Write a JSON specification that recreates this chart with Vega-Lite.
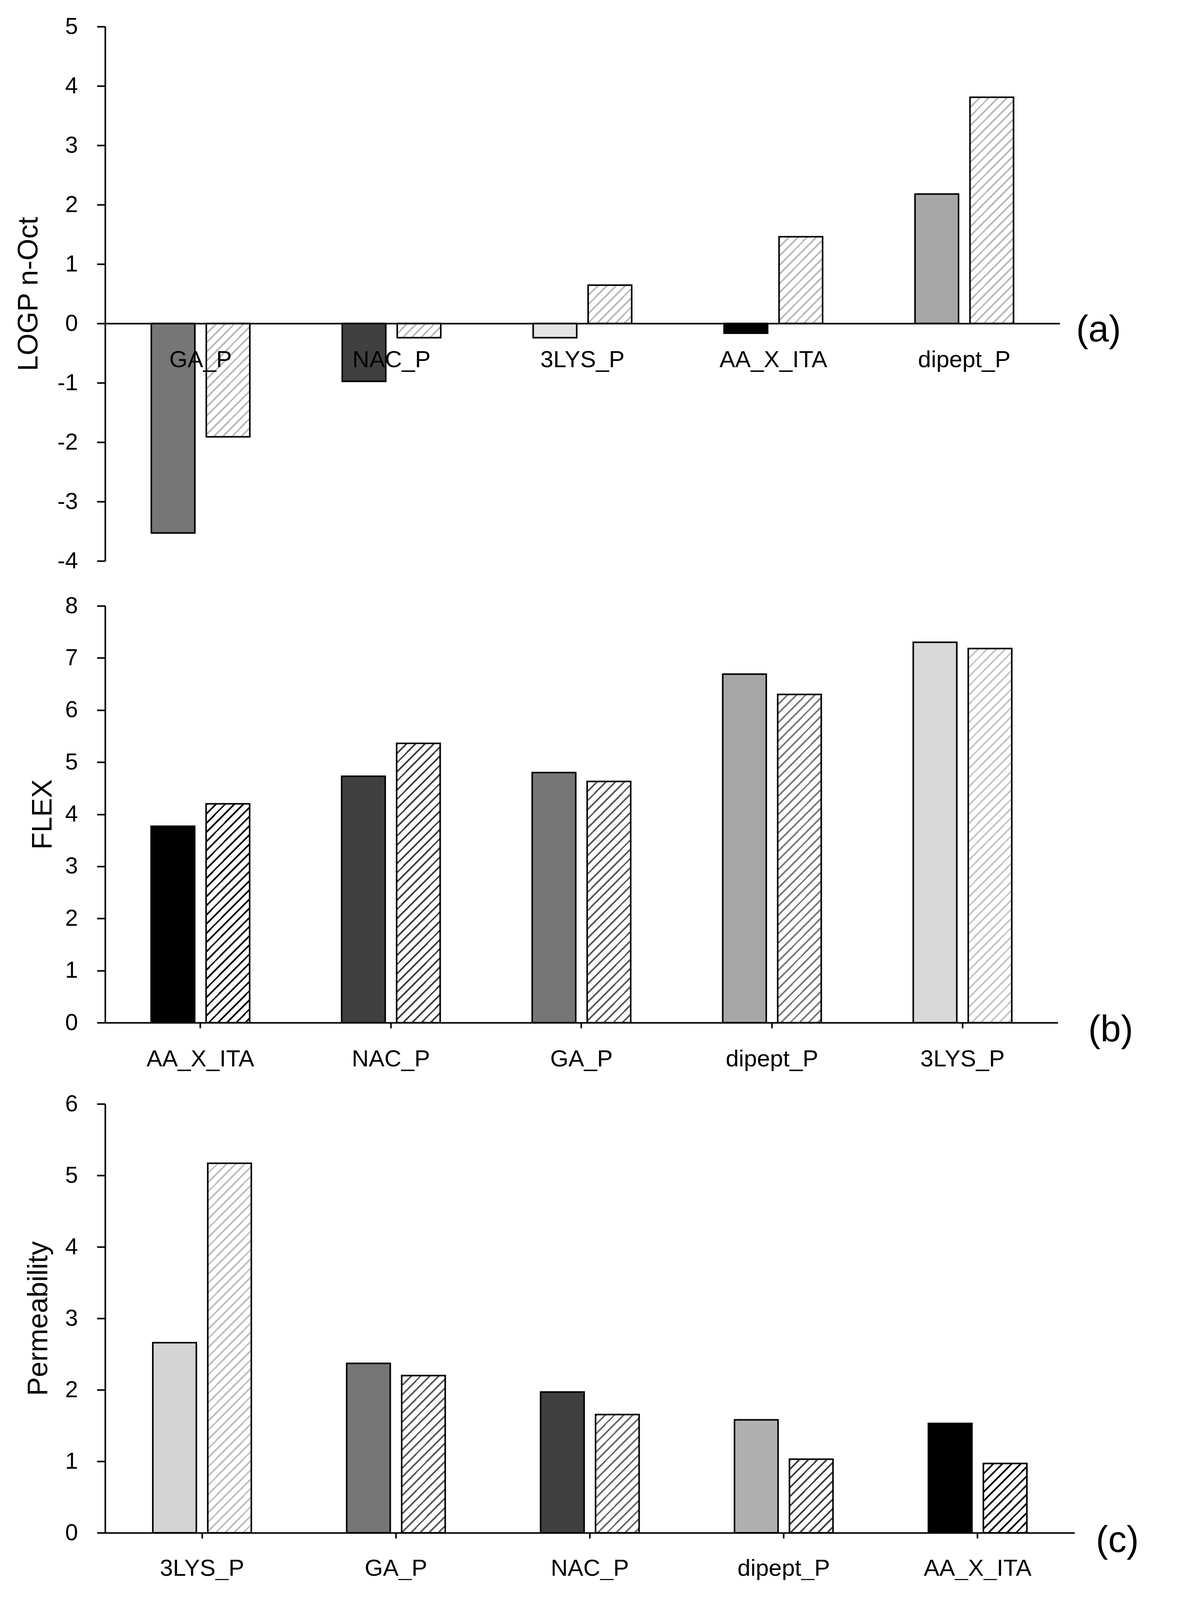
{
  "$schema": "https://vega.github.io/schema/vega-lite/v6.json",
  "background": "white",
  "padding": {"left": 37, "top": 39, "right": 0, "bottom": 0},
  "spacing": 56,
  "params": [
    {"name": "hs", "value": [
      {"offset":0,"color":"#fff0"},{"offset":0.005,"color":"#fff0"},{"offset":0.005,"color":"#fff"},{"offset":0.02,"color":"#fff"},
      {"offset":0.02,"color":"#fff0"},{"offset":0.025,"color":"#fff0"},{"offset":0.025,"color":"#fff"},{"offset":0.04,"color":"#fff"},
      {"offset":0.04,"color":"#fff0"},{"offset":0.045,"color":"#fff0"},{"offset":0.045,"color":"#fff"},{"offset":0.06,"color":"#fff"},
      {"offset":0.06,"color":"#fff0"},{"offset":0.065,"color":"#fff0"},{"offset":0.065,"color":"#fff"},{"offset":0.08,"color":"#fff"},
      {"offset":0.08,"color":"#fff0"},{"offset":0.085,"color":"#fff0"},{"offset":0.085,"color":"#fff"},{"offset":0.1,"color":"#fff"},
      {"offset":0.1,"color":"#fff0"},{"offset":0.105,"color":"#fff0"},{"offset":0.105,"color":"#fff"},{"offset":0.12,"color":"#fff"},
      {"offset":0.12,"color":"#fff0"},{"offset":0.125,"color":"#fff0"},{"offset":0.125,"color":"#fff"},{"offset":0.14,"color":"#fff"},
      {"offset":0.14,"color":"#fff0"},{"offset":0.145,"color":"#fff0"},{"offset":0.145,"color":"#fff"},{"offset":0.16,"color":"#fff"},
      {"offset":0.16,"color":"#fff0"},{"offset":0.165,"color":"#fff0"},{"offset":0.165,"color":"#fff"},{"offset":0.18,"color":"#fff"},
      {"offset":0.18,"color":"#fff0"},{"offset":0.185,"color":"#fff0"},{"offset":0.185,"color":"#fff"},{"offset":0.2,"color":"#fff"},
      {"offset":0.2,"color":"#fff0"},{"offset":0.205,"color":"#fff0"},{"offset":0.205,"color":"#fff"},{"offset":0.22,"color":"#fff"},
      {"offset":0.22,"color":"#fff0"},{"offset":0.225,"color":"#fff0"},{"offset":0.225,"color":"#fff"},{"offset":0.24,"color":"#fff"},
      {"offset":0.24,"color":"#fff0"},{"offset":0.245,"color":"#fff0"},{"offset":0.245,"color":"#fff"},{"offset":0.26,"color":"#fff"},
      {"offset":0.26,"color":"#fff0"},{"offset":0.265,"color":"#fff0"},{"offset":0.265,"color":"#fff"},{"offset":0.28,"color":"#fff"},
      {"offset":0.28,"color":"#fff0"},{"offset":0.285,"color":"#fff0"},{"offset":0.285,"color":"#fff"},{"offset":0.3,"color":"#fff"},
      {"offset":0.3,"color":"#fff0"},{"offset":0.305,"color":"#fff0"},{"offset":0.305,"color":"#fff"},{"offset":0.32,"color":"#fff"},
      {"offset":0.32,"color":"#fff0"},{"offset":0.325,"color":"#fff0"},{"offset":0.325,"color":"#fff"},{"offset":0.34,"color":"#fff"},
      {"offset":0.34,"color":"#fff0"},{"offset":0.345,"color":"#fff0"},{"offset":0.345,"color":"#fff"},{"offset":0.36,"color":"#fff"},
      {"offset":0.36,"color":"#fff0"},{"offset":0.365,"color":"#fff0"},{"offset":0.365,"color":"#fff"},{"offset":0.38,"color":"#fff"},
      {"offset":0.38,"color":"#fff0"},{"offset":0.385,"color":"#fff0"},{"offset":0.385,"color":"#fff"},{"offset":0.4,"color":"#fff"},
      {"offset":0.4,"color":"#fff0"},{"offset":0.405,"color":"#fff0"},{"offset":0.405,"color":"#fff"},{"offset":0.42,"color":"#fff"},
      {"offset":0.42,"color":"#fff0"},{"offset":0.425,"color":"#fff0"},{"offset":0.425,"color":"#fff"},{"offset":0.44,"color":"#fff"},
      {"offset":0.44,"color":"#fff0"},{"offset":0.445,"color":"#fff0"},{"offset":0.445,"color":"#fff"},{"offset":0.46,"color":"#fff"},
      {"offset":0.46,"color":"#fff0"},{"offset":0.465,"color":"#fff0"},{"offset":0.465,"color":"#fff"},{"offset":0.48,"color":"#fff"},
      {"offset":0.48,"color":"#fff0"},{"offset":0.485,"color":"#fff0"},{"offset":0.485,"color":"#fff"},{"offset":0.5,"color":"#fff"},
      {"offset":0.5,"color":"#fff0"},{"offset":0.505,"color":"#fff0"},{"offset":0.505,"color":"#fff"},{"offset":0.52,"color":"#fff"},
      {"offset":0.52,"color":"#fff0"},{"offset":0.525,"color":"#fff0"},{"offset":0.525,"color":"#fff"},{"offset":0.54,"color":"#fff"},
      {"offset":0.54,"color":"#fff0"},{"offset":0.545,"color":"#fff0"},{"offset":0.545,"color":"#fff"},{"offset":0.56,"color":"#fff"},
      {"offset":0.56,"color":"#fff0"},{"offset":0.565,"color":"#fff0"},{"offset":0.565,"color":"#fff"},{"offset":0.58,"color":"#fff"},
      {"offset":0.58,"color":"#fff0"},{"offset":0.585,"color":"#fff0"},{"offset":0.585,"color":"#fff"},{"offset":0.6,"color":"#fff"},
      {"offset":0.6,"color":"#fff0"},{"offset":0.605,"color":"#fff0"},{"offset":0.605,"color":"#fff"},{"offset":0.62,"color":"#fff"},
      {"offset":0.62,"color":"#fff0"},{"offset":0.625,"color":"#fff0"},{"offset":0.625,"color":"#fff"},{"offset":0.64,"color":"#fff"},
      {"offset":0.64,"color":"#fff0"},{"offset":0.645,"color":"#fff0"},{"offset":0.645,"color":"#fff"},{"offset":0.66,"color":"#fff"},
      {"offset":0.66,"color":"#fff0"},{"offset":0.665,"color":"#fff0"},{"offset":0.665,"color":"#fff"},{"offset":0.68,"color":"#fff"},
      {"offset":0.68,"color":"#fff0"},{"offset":0.685,"color":"#fff0"},{"offset":0.685,"color":"#fff"},{"offset":0.7,"color":"#fff"},
      {"offset":0.7,"color":"#fff0"},{"offset":0.705,"color":"#fff0"},{"offset":0.705,"color":"#fff"},{"offset":0.72,"color":"#fff"},
      {"offset":0.72,"color":"#fff0"},{"offset":0.725,"color":"#fff0"},{"offset":0.725,"color":"#fff"},{"offset":0.74,"color":"#fff"},
      {"offset":0.74,"color":"#fff0"},{"offset":0.745,"color":"#fff0"},{"offset":0.745,"color":"#fff"},{"offset":0.76,"color":"#fff"},
      {"offset":0.76,"color":"#fff0"},{"offset":0.765,"color":"#fff0"},{"offset":0.765,"color":"#fff"},{"offset":0.78,"color":"#fff"},
      {"offset":0.78,"color":"#fff0"},{"offset":0.785,"color":"#fff0"},{"offset":0.785,"color":"#fff"},{"offset":0.8,"color":"#fff"},
      {"offset":0.8,"color":"#fff0"},{"offset":0.805,"color":"#fff0"},{"offset":0.805,"color":"#fff"},{"offset":0.82,"color":"#fff"},
      {"offset":0.82,"color":"#fff0"},{"offset":0.825,"color":"#fff0"},{"offset":0.825,"color":"#fff"},{"offset":0.84,"color":"#fff"},
      {"offset":0.84,"color":"#fff0"},{"offset":0.845,"color":"#fff0"},{"offset":0.845,"color":"#fff"},{"offset":0.86,"color":"#fff"},
      {"offset":0.86,"color":"#fff0"},{"offset":0.865,"color":"#fff0"},{"offset":0.865,"color":"#fff"},{"offset":0.88,"color":"#fff"},
      {"offset":0.88,"color":"#fff0"},{"offset":0.885,"color":"#fff0"},{"offset":0.885,"color":"#fff"},{"offset":0.9,"color":"#fff"},
      {"offset":0.9,"color":"#fff0"},{"offset":0.905,"color":"#fff0"},{"offset":0.905,"color":"#fff"},{"offset":0.92,"color":"#fff"},
      {"offset":0.92,"color":"#fff0"},{"offset":0.925,"color":"#fff0"},{"offset":0.925,"color":"#fff"},{"offset":0.94,"color":"#fff"},
      {"offset":0.94,"color":"#fff0"},{"offset":0.945,"color":"#fff0"},{"offset":0.945,"color":"#fff"},{"offset":0.96,"color":"#fff"},
      {"offset":0.96,"color":"#fff0"},{"offset":0.965,"color":"#fff0"},{"offset":0.965,"color":"#fff"},{"offset":0.98,"color":"#fff"},
      {"offset":0.98,"color":"#fff0"},{"offset":0.985,"color":"#fff0"},{"offset":0.985,"color":"#fff"},{"offset":1,"color":"#fff"}
    ]}
  ],
  "datasets": {
    "logp": [
      {"compound": "GA_P", "series": "solid", "value": -3.53},
      {"compound": "GA_P", "series": "hatched", "value": -1.91},
      {"compound": "NAC_P", "series": "solid", "value": -0.975},
      {"compound": "NAC_P", "series": "hatched", "value": -0.24},
      {"compound": "3LYS_P", "series": "solid", "value": -0.24},
      {"compound": "3LYS_P", "series": "hatched", "value": 0.645},
      {"compound": "AA_X_ITA", "series": "solid", "value": -0.165},
      {"compound": "AA_X_ITA", "series": "hatched", "value": 1.46},
      {"compound": "dipept_P", "series": "solid", "value": 2.18},
      {"compound": "dipept_P", "series": "hatched", "value": 3.81}
    ],
    "flex": [
      {"compound": "AA_X_ITA", "series": "solid", "value": 3.77},
      {"compound": "AA_X_ITA", "series": "hatched", "value": 4.2},
      {"compound": "NAC_P", "series": "solid", "value": 4.73},
      {"compound": "NAC_P", "series": "hatched", "value": 5.36},
      {"compound": "GA_P", "series": "solid", "value": 4.8},
      {"compound": "GA_P", "series": "hatched", "value": 4.63},
      {"compound": "dipept_P", "series": "solid", "value": 6.69},
      {"compound": "dipept_P", "series": "hatched", "value": 6.3},
      {"compound": "3LYS_P", "series": "solid", "value": 7.3},
      {"compound": "3LYS_P", "series": "hatched", "value": 7.18}
    ],
    "perm": [
      {"compound": "3LYS_P", "series": "solid", "value": 2.66},
      {"compound": "3LYS_P", "series": "hatched", "value": 5.17},
      {"compound": "GA_P", "series": "solid", "value": 2.37},
      {"compound": "GA_P", "series": "hatched", "value": 2.2},
      {"compound": "NAC_P", "series": "solid", "value": 1.97},
      {"compound": "NAC_P", "series": "hatched", "value": 1.655},
      {"compound": "dipept_P", "series": "solid", "value": 1.58},
      {"compound": "dipept_P", "series": "hatched", "value": 1.03},
      {"compound": "AA_X_ITA", "series": "solid", "value": 1.53},
      {"compound": "AA_X_ITA", "series": "hatched", "value": 0.97}
    ]
  },
  "config": {
    "view": {"stroke": null},
    "font": "Liberation Sans",
    "axis": {
      "domainColor": "black", "domainWidth": 4, "tickColor": "black", "tickWidth": 4,
      "labelColor": "black", "labelFont": "Liberation Sans", "labelFontSize": 59, "labelLimit": 0,
      "titleColor": "black", "titleFont": "Liberation Sans", "titleFontSize": 72, "titleFontWeight": "normal",
      "grid": false, "labelFlush": false, "labelOverlap": false, "labelBound": false
    },
    "axisX": {"labelFontSize": 60},
    "title": {"font": "Liberation Sans", "fontWeight": "normal", "color": "black", "fontSize": 94}
  },
  "resolve": {"scale": {"x": "independent", "y": "independent", "xOffset": "independent", "fill": "independent"}},
  "vconcat": [
    {
      "width": 2443, "height": 1368,
      "data": {"name": "logp"},
      "title": {"text": "(a)", "orient": "right", "anchor": "middle", "frame": "group", "angle": 0, "align": "left", "baseline": "middle", "offset": -73, "dy": 94},
      "encoding": {
        "x": {"field": "compound", "type": "nominal", "sort": ["GA_P", "NAC_P", "3LYS_P", "AA_X_ITA", "dipept_P"],
              "scale": {"paddingInner": 0.484, "paddingOuter": 0.242},
              "axis": {"title": null, "orient": "bottom", "offset": -608, "ticks": false, "tickSize": 0, "labelPadding": 64, "labelAngle": 0, "zindex": 3}},
        "xOffset": {"field": "series", "type": "nominal", "scale": {"domain": ["solid", "hatched"], "paddingInner": 0.208, "paddingOuter": 0}},
        "y": {"field": "value", "type": "quantitative", "scale": {"domain": [-4, 5], "nice": false, "zero": false},
              "axis": {"title": "LOGP n-Oct", "values": [-4, -3, -2, -1, 0, 1, 2, 3, 4, 5], "tickSize": 21, "labelPadding": 49, "titlePadding": 36, "labelExpr": "'' + datum.value", "zindex": 3}}
      },
      "layer": [
        {"transform": [{"filter": "datum.series === 'solid'"}],
         "mark": {"type": "bar", "stroke": "black", "strokeWidth": 4},
         "encoding": {"fill": {"field": "compound", "type": "nominal", "legend": null,
           "scale": {"domain": ["GA_P", "NAC_P", "3LYS_P", "AA_X_ITA", "dipept_P"], "range": ["#767676", "#404040", "#e4e4e4", "#000000", "#a6a6a6"]}}}},
        {"transform": [{"filter": "datum.series === 'hatched'"}],
         "mark": {"type": "bar", "fill": "#b8b8b8"}},
        {"transform": [{"filter": "datum.series === 'hatched'"}],
         "mark": {"type": "bar", "stroke": "black", "strokeWidth": 4,
           "fill": {"expr": "{gradient: 'linear', x1: 0, y1: 0, x2: 1175*112/(12544+pow(abs(datum.value)*152,2)), y2: 1175*abs(datum.value)*152/(12544+pow(abs(datum.value)*152,2)), stops: hs}"}}}
      ]
    },
    {
      "width": 2438, "height": 1067,
      "data": {"name": "flex"},
      "title": {"text": "(b)", "orient": "right", "anchor": "end", "frame": "group", "angle": 0, "align": "left", "baseline": "middle", "offset": -37, "dy": 20},
      "encoding": {
        "x": {"field": "compound", "type": "nominal", "sort": ["AA_X_ITA", "NAC_P", "GA_P", "dipept_P", "3LYS_P"],
              "scale": {"paddingInner": 0.483, "paddingOuter": 0.2415},
              "axis": {"title": null, "tickSize": 14, "labelPadding": 50, "labelAngle": 0, "zindex": 3}},
        "xOffset": {"field": "series", "type": "nominal", "scale": {"domain": ["solid", "hatched"], "paddingInner": 0.208, "paddingOuter": 0}},
        "y": {"field": "value", "type": "quantitative", "scale": {"domain": [0, 8], "nice": false},
              "axis": {"title": "FLEX", "values": [0, 1, 2, 3, 4, 5, 6, 7, 8], "tickSize": 21, "labelPadding": 49, "titlePadding": 20, "zindex": 3}}
      },
      "layer": [
        {"transform": [{"filter": "datum.series === 'solid'"}],
         "mark": {"type": "bar", "stroke": "black", "strokeWidth": 4},
         "encoding": {"fill": {"field": "compound", "type": "nominal", "legend": null,
           "scale": {"domain": ["AA_X_ITA", "NAC_P", "GA_P", "dipept_P", "3LYS_P"], "range": ["#000000", "#404040", "#767676", "#a6a6a6", "#d9d9d9"]}}}},
        {"transform": [{"filter": "datum.series === 'hatched'"}],
         "mark": {"type": "bar"},
         "encoding": {"fill": {"field": "compound", "type": "nominal", "legend": null,
           "scale": {"domain": ["AA_X_ITA", "NAC_P", "GA_P", "dipept_P", "3LYS_P"], "range": ["#000000", "#404040", "#5a5a5a", "#7a7a7a", "#c4c4c4"]}}}},
        {"transform": [{"filter": "datum.series === 'hatched'"}],
         "mark": {"type": "bar", "stroke": "black", "strokeWidth": 4,
           "fill": {"expr": "{gradient: 'linear', x1: 0, y1: 0, x2: 1175*112/(12544+pow(abs(datum.value)*133.4,2)), y2: 1175*abs(datum.value)*133.4/(12544+pow(abs(datum.value)*133.4,2)), stops: hs}"}}}
      ],
      "resolve": {"scale": {"fill": "independent"}}
    },
    {
      "width": 2481, "height": 1098,
      "data": {"name": "perm"},
      "title": {"text": "(c)", "orient": "right", "anchor": "end", "frame": "group", "angle": 0, "align": "left", "baseline": "middle", "offset": -55, "dy": 21},
      "encoding": {
        "x": {"field": "compound", "type": "nominal", "sort": ["3LYS_P", "GA_P", "NAC_P", "dipept_P", "AA_X_ITA"],
              "scale": {"paddingInner": 0.492, "paddingOuter": 0.246},
              "axis": {"title": null, "tickSize": 14, "labelPadding": 48, "labelAngle": 0, "zindex": 3}},
        "xOffset": {"field": "series", "type": "nominal", "scale": {"domain": ["solid", "hatched"], "paddingInner": 0.208, "paddingOuter": 0}},
        "y": {"field": "value", "type": "quantitative", "scale": {"domain": [0, 6], "nice": false},
              "axis": {"title": "Permeability", "values": [0, 1, 2, 3, 4, 5, 6], "tickSize": 21, "labelPadding": 49, "titlePadding": 31, "zindex": 3}}
      },
      "layer": [
        {"transform": [{"filter": "datum.series === 'solid'"}],
         "mark": {"type": "bar", "stroke": "black", "strokeWidth": 4},
         "encoding": {"fill": {"field": "compound", "type": "nominal", "legend": null,
           "scale": {"domain": ["3LYS_P", "GA_P", "NAC_P", "dipept_P", "AA_X_ITA"], "range": ["#d4d4d4", "#767676", "#404040", "#b0b0b0", "#000000"]}}}},
        {"transform": [{"filter": "datum.series === 'hatched'"}],
         "mark": {"type": "bar"},
         "encoding": {"fill": {"field": "compound", "type": "nominal", "legend": null,
           "scale": {"domain": ["3LYS_P", "GA_P", "NAC_P", "dipept_P", "AA_X_ITA"], "range": ["#bdbdbd", "#5a5a5a", "#6a6a6a", "#404040", "#000000"]}}}},
        {"transform": [{"filter": "datum.series === 'hatched'"}],
         "mark": {"type": "bar", "stroke": "black", "strokeWidth": 4,
           "fill": {"expr": "{gradient: 'linear', x1: 0, y1: 0, x2: 1175*112/(12544+pow(abs(datum.value)*183,2)), y2: 1175*abs(datum.value)*183/(12544+pow(abs(datum.value)*183,2)), stops: hs}"}}}
      ],
      "resolve": {"scale": {"fill": "independent"}}
    }
  ]
}
